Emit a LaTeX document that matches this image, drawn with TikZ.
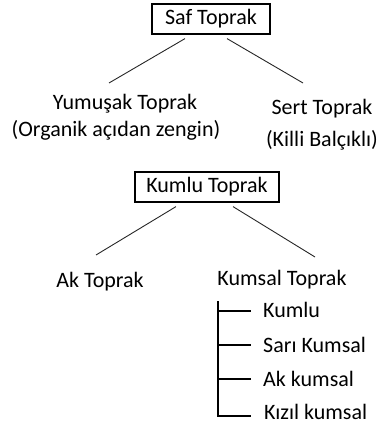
\documentclass[tikz,border=0pt]{standalone}
\usepackage{fontspec}
\setmainfont{Carlito}
\begin{document}
\begin{tikzpicture}[x=1pt, y=-1pt]
  \useasboundingbox (0, 0) rectangle (384, 427);  % Rahmen wie Vorlage.
  \tikzstyle{kind}=[font=\fontsize{22}{26}\selectfont, inner sep=0pt]
  \tikzstyle{box}=[kind, draw, line width=1.2pt, minimum width=118pt, minimum height=30pt]
  \tikzstyle{ast}=[line width=0.9pt, black!85]

  \node[box] (saf) at (211, 19) {Saf Toprak};
  \node[kind, anchor=base] (yum) at (125, 110) {Yumuşak Toprak};
  \node[kind, anchor=base] (yumnote) at (116, 137) {(Organik açıdan zengin)};
  \node[kind, anchor=base] (sert) at (322, 115) {Sert Toprak};
  \node[kind, anchor=base] (sertnote) at (322, 147) {(Killi Balçıklı)};

  \node[box, minimum width=144pt] (kumlu) at (207, 187) {Kumlu Toprak};
  \node[kind, anchor=base] (ak) at (100, 287) {Ak Toprak};
  \node[kind, anchor=base] (kumsal) at (282, 285) {Kumsal Toprak};

  \node[kind, anchor=base west] (k1) at (263, 317) {Kumlu};
  \node[kind, anchor=base west] (k2) at (263, 352) {Sarı Kumsal};
  \node[kind, anchor=base west] (k3) at (263, 386) {Ak kumsal};
  \node[kind, anchor=base west] (k4) at (264, 419) {Kızıl kumsal};

  \draw[ast] ([shift={(-26, 4)}]saf.south) -- ([shift={(-16, -27)}]yum.base);
  \draw[ast] ([shift={(16, 4)}]saf.south) -- ([shift={(-19, -32)}]sert.base);
  \draw[ast] ([shift={(-31, 4)}]kumlu.south) -- ([shift={(-4, -32)}]ak.base);
  \draw[ast] ([shift={(26, 4)}]kumlu.south) -- ([shift={(33, -28)}]kumsal.base);

  \draw[line width=1.3pt] ([shift={(-64, 16)}]kumsal.base) |- ([shift={(-13, -3)}]k4.base west);
  \draw[line width=1.3pt] ([shift={(-45, -6)}]k1.base west) -- ([shift={(-12, -6)}]k1.base west);
  \draw[line width=1.3pt] ([shift={(-45, -7)}]k2.base west) -- ([shift={(-12, -7)}]k2.base west);
  \draw[line width=1.3pt] ([shift={(-45, -7)}]k3.base west) -- ([shift={(-12, -7)}]k3.base west);
\end{tikzpicture}
\end{document}
